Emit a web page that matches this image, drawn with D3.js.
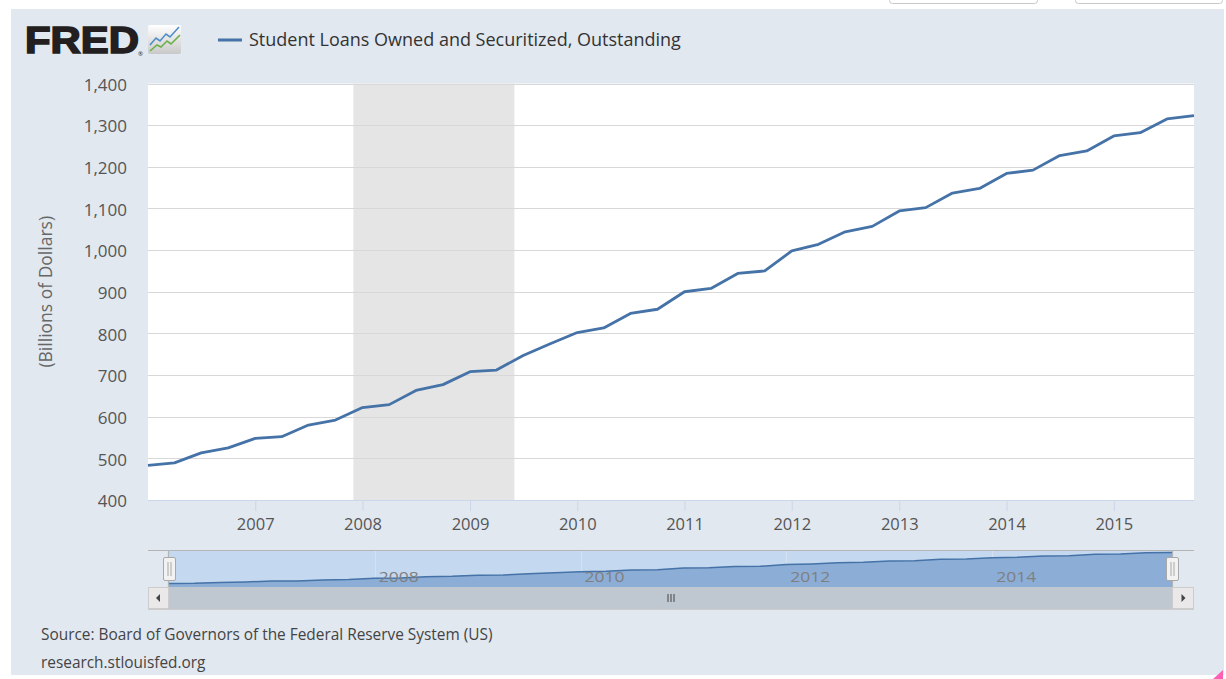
<!DOCTYPE html>
<html>
<head>
<meta charset="utf-8">
<script src="https://cdn.jsdelivr.net/npm/d3@7/dist/d3.min.js"></script>
<style>
  html, body { margin: 0; padding: 0; background: #ffffff; }
  svg { display: block; font-family: "Open Sans", "Noto Sans", sans-serif; }
</style>
</head>
<body>
<svg id="chart" width="1226" height="679"></svg>
<script>
// ---------- DATA ----------
const dates = [
  "2006-01-01","2006-04-01","2006-07-01","2006-10-01",
  "2007-01-01","2007-04-01","2007-07-01","2007-10-01",
  "2008-01-01","2008-04-01","2008-07-01","2008-10-01",
  "2009-01-01","2009-04-01","2009-07-01","2009-10-01",
  "2010-01-01","2010-04-01","2010-07-01","2010-10-01",
  "2011-01-01","2011-04-01","2011-07-01","2011-10-01",
  "2012-01-01","2012-04-01","2012-07-01","2012-10-01",
  "2013-01-01","2013-04-01","2013-07-01","2013-10-01",
  "2014-01-01","2014-04-01","2014-07-01","2014-10-01",
  "2015-01-01","2015-04-01","2015-07-01","2015-10-01"
];
const values = [
  483, 489, 513, 525,
  548, 552, 580, 592,
  622, 629, 663, 677,
  708, 712, 747, 775,
  802, 813, 848, 858,
  900, 908, 944, 950,
  998, 1014, 1044, 1057,
  1094, 1102, 1137, 1148,
  1184, 1192, 1227, 1238,
  1274, 1282, 1315, 1323
];
const seriesName = "Student Loans Owned and Securitized, Outstanding";
const yAxisTitle = "(Billions of Dollars)";
const yTicks = [400, 500, 600, 700, 800, 900, 1000, 1100, 1200, 1300, 1400];
const xTickYears = [2007, 2008, 2009, 2010, 2011, 2012, 2013, 2014, 2015];
const navTickYears = [2008, 2010, 2012, 2014];
const recessionStart = ["2007-12-01"];
const recessionEnd = ["2009-06-01"];
const sourceLines = [
  "Source: Board of Governors of the Federal Reserve System (US)",
  "research.stlouisfed.org"
];

// ---------- SETUP ----------
const parse = d3.utcParse("%Y-%m-%d");
const data = dates.map((d, i) => ({ date: parse(d), value: values[i] }));
const svg = d3.select("#chart");

const lineColor = "#4572a7";
const bgColor = "#e1e8f0";

// top white strip with button bottoms
svg.append("rect").attr("x", 0).attr("y", 0).attr("width", 1226).attr("height", 679).attr("fill", "#fff");
[[889, 148], [1075, 147]].forEach(([bx, bw]) => {
  svg.append("rect").attr("x", bx + 0.5).attr("y", -10).attr("width", bw).attr("height", 13.5)
    .attr("rx", 3).attr("fill", "#fff").attr("stroke", "#c8c8c8");
});

// main background
svg.append("rect").attr("x", 11).attr("y", 9).attr("width", 1213).attr("height", 666).attr("fill", bgColor);

// bottom-right pink grip
svg.append("path").attr("d", "M1223,670 L1223,679 L1213,679 Z").attr("fill", "#ff5fb4");

// ---------- LOGO ----------
const logo = svg.append("g");
logo.append("text").attr("x", 25).attr("y", 53).text("FRED")
  .attr("font-family", "'Liberation Sans', Arial, sans-serif").attr("font-weight", "bold")
  .attr("font-size", 37).attr("fill", "#231f20").attr("stroke", "#231f20").attr("stroke-width", 1.6)
  .attr("stroke-linejoin", "miter")
  .attr("textLength", 114).attr("lengthAdjust", "spacingAndGlyphs");
logo.append("text").attr("x", 138).attr("y", 56).text("®")
  .attr("font-size", 6).attr("fill", "#231f20");
const grad = svg.append("defs").append("linearGradient").attr("id", "icoG")
  .attr("x1", 0).attr("y1", 0).attr("x2", 0).attr("y2", 1);
grad.append("stop").attr("offset", "0%").attr("stop-color", "#ffffff");
grad.append("stop").attr("offset", "100%").attr("stop-color", "#c9c9c9");
logo.append("rect").attr("x", 148).attr("y", 25).attr("width", 33).attr("height", 29)
  .attr("rx", 2).attr("fill", "url(#icoG)");
logo.append("path").attr("d", "M150,45 L156,38 L160,41 L166,34 L170,37 L179,27")
  .attr("fill", "none").attr("stroke", "#4f8ec9").attr("stroke-width", 1.6);
logo.append("path").attr("d", "M150,51 L157,45 L161,47 L167,41 L171,44 L180,35")
  .attr("fill", "none").attr("stroke", "#6ab04c").attr("stroke-width", 1.6);

// ---------- LEGEND ----------
svg.append("line").attr("x1", 218).attr("x2", 242).attr("y1", 40).attr("y2", 40)
  .attr("stroke", lineColor).attr("stroke-width", 3);
svg.append("text").attr("x", 249).attr("y", 46).text(seriesName)
  .attr("font-size", 18).attr("fill", "#333");

// ---------- MAIN PLOT ----------
const plot = { left: 148, right: 1194, top: 83.5, bottom: 500 };
const x = d3.scaleUtc()
  .domain([data[0].date, data[data.length - 1].date])
  .range([plot.left, plot.right]);
const y = d3.scaleLinear().domain([400, 1400]).range([plot.bottom, plot.top]);

svg.append("rect").attr("x", plot.left).attr("y", plot.top)
  .attr("width", plot.right - plot.left).attr("height", plot.bottom - plot.top).attr("fill", "#fff");

// recession shading
recessionStart.forEach((s, i) => {
  const x0 = x(parse(s)), x1 = x(parse(recessionEnd[i]));
  svg.append("rect").attr("x", x0).attr("y", plot.top).attr("width", x1 - x0)
    .attr("height", plot.bottom - plot.top).attr("fill", "#e5e5e5");
});

// gridlines
svg.append("g").selectAll("line").data(yTicks.filter(t => t > 400)).join("line")
  .attr("x1", plot.left).attr("x2", plot.right)
  .attr("y1", d => Math.round(y(d)) + 0.5).attr("y2", d => Math.round(y(d)) + 0.5)
  .attr("stroke", "#d8d8d8").attr("stroke-width", 1);

// y axis labels
const yAxis = d3.axisLeft(y).tickValues(yTicks).tickFormat(d3.format(",")).tickSize(0).tickPadding(0);
const yg = svg.append("g").attr("transform", `translate(${127},0)`).call(yAxis);
yg.select(".domain").remove();
yg.selectAll("text").attr("font-size", 17).attr("fill", "#555").attr("font-family", "'Open Sans', sans-serif")
  .attr("dy", "0.4em");

// y axis title
svg.append("text").attr("transform", `translate(52,${(plot.top + plot.bottom) / 2}) rotate(-90)`)
  .attr("text-anchor", "middle").attr("font-size", 17.5).attr("fill", "#666").text(yAxisTitle);

// x axis
const xAxis = d3.axisBottom(x)
  .tickValues(xTickYears.map(yr => new Date(Date.UTC(yr, 0, 1))))
  .tickFormat(d3.utcFormat("%Y")).tickSize(11).tickPadding(7);
const xg = svg.append("g").attr("transform", `translate(0,${plot.bottom})`).call(xAxis);
xg.select(".domain").attr("stroke", "#ccd6eb").attr("d", `M${plot.left},0.5H${plot.right}`);
xg.selectAll(".tick line").attr("stroke", "#ccd6eb");
xg.selectAll("text").attr("font-size", 16.5).attr("fill", "#555").attr("font-family", "'Open Sans', sans-serif");

// series line
const line = d3.line().x(d => x(d.date)).y(d => y(d.value));
svg.append("path").datum(data).attr("d", line).attr("fill", "none")
  .attr("stroke", lineColor).attr("stroke-width", 2.8).attr("stroke-linejoin", "round");

// ---------- NAVIGATOR ----------
const nav = { left: 148, right: 1194, top: 551, bottom: 587, selL: 169, selR: 1172 };
const nx = d3.scaleUtc().domain(x.domain()).range([nav.selL, nav.selR]);
const ny = d3.scaleLinear().domain(d3.extent(values)).range([583.5, 552.5]);

// selection mask
svg.append("rect").attr("x", nav.selL).attr("y", nav.top).attr("width", nav.selR - nav.selL)
  .attr("height", nav.bottom - nav.top).attr("fill", "#c4d8ef");

// navigator gridlines
svg.append("g").selectAll("line").data(navTickYears).join("line")
  .attr("x1", d => Math.round(nx(new Date(Date.UTC(d, 0, 1)))) + 0.5)
  .attr("x2", d => Math.round(nx(new Date(Date.UTC(d, 0, 1)))) + 0.5)
  .attr("y1", nav.top).attr("y2", nav.bottom).attr("stroke", "#d3e1f2").attr("stroke-width", 1);

// navigator area + line
const area = d3.area().x(d => nx(d.date)).y0(nav.bottom).y1(d => ny(d.value));
svg.append("path").datum(data).attr("d", area).attr("fill", "#8caed6");
svg.append("path").datum(data).attr("d", d3.line().x(d => nx(d.date)).y(d => ny(d.value)))
  .attr("fill", "none").attr("stroke", lineColor).attr("stroke-width", 1.5);

// navigator labels
svg.append("g").selectAll("text").data(navTickYears).join("text")
  .attr("x", d => nx(new Date(Date.UTC(d, 0, 1))) + 4).attr("y", 582)
  .attr("font-size", 15).attr("fill", "#7f7f7f").attr("font-family", "'Open Sans', sans-serif")
  .attr("textLength", 40).attr("lengthAdjust", "spacingAndGlyphs")
  .text(d => d);

// outline
svg.append("path")
  .attr("d", `M${nav.left},${nav.top - 0.5}H${nav.right}M${nav.selL - 0.5},${nav.top}V${nav.bottom}M${nav.selR + 0.5},${nav.top}V${nav.bottom}`)
  .attr("stroke", "#b4b4b4").attr("stroke-width", 1.2).attr("fill", "none");

// scrollbar
const sb = { top: 587, bottom: 609 };
svg.append("rect").attr("x", nav.left).attr("y", sb.top).attr("width", nav.right - nav.left)
  .attr("height", sb.bottom - sb.top).attr("fill", "#eeeeee");
svg.append("rect").attr("x", nav.selL).attr("y", sb.top).attr("width", nav.selR - nav.selL)
  .attr("height", sb.bottom - sb.top).attr("fill", "#bfc7d0");
[[nav.left, nav.selL, "L"], [nav.selR, nav.right, "R"]].forEach(([a, b, dir]) => {
  svg.append("rect").attr("x", a + 0.5).attr("y", sb.top + 0.5).attr("width", b - a - 1)
    .attr("height", sb.bottom - sb.top - 1).attr("fill", "#ebe8e9").attr("stroke", "#cccccc");
  const cx = (a + b) / 2, cy = (sb.top + sb.bottom) / 2;
  const p = dir === "L" ? `M${cx + 1.5},${cy - 4}L${cx - 2.5},${cy}L${cx + 1.5},${cy + 4}Z`
                        : `M${cx - 1.5},${cy - 4}L${cx + 2.5},${cy}L${cx - 1.5},${cy + 4}Z`;
  svg.append("path").attr("d", p).attr("fill", "#444");
});
svg.append("line").attr("x1", nav.left).attr("x2", nav.right).attr("y1", sb.bottom + 0.5).attr("y2", sb.bottom + 0.5)
  .attr("stroke", "#cccccc");
const gx = (nav.selL + nav.selR) / 2;
[-3, 0, 3].forEach(o => {
  svg.append("line").attr("x1", gx + o + 0.5).attr("x2", gx + o + 0.5).attr("y1", 594).attr("y2", 602)
    .attr("stroke", "#444").attr("stroke-width", 1);
});

// handles
[nav.selL, nav.selR].forEach(hx => {
  svg.append("rect").attr("x", hx - 6 + 0.5).attr("y", 557.5).attr("width", 12).attr("height", 23)
    .attr("rx", 1.5).attr("fill", "#f2f2f2").attr("stroke", "#a8a8a8");
  [-1.5, 1.5].forEach(o => {
    svg.append("line").attr("x1", hx + o + 0.5).attr("x2", hx + o + 0.5).attr("y1", 562).attr("y2", 576)
      .attr("stroke", "#a8a8a8");
  });
});

// ---------- SOURCE ----------
svg.append("g").selectAll("text").data(sourceLines).join("text")
  .attr("x", 41).attr("y", (d, i) => 640 + i * 28)
  .attr("font-size", 15.4).attr("fill", "#444").text(d => d);
</script>
</body>
</html>
